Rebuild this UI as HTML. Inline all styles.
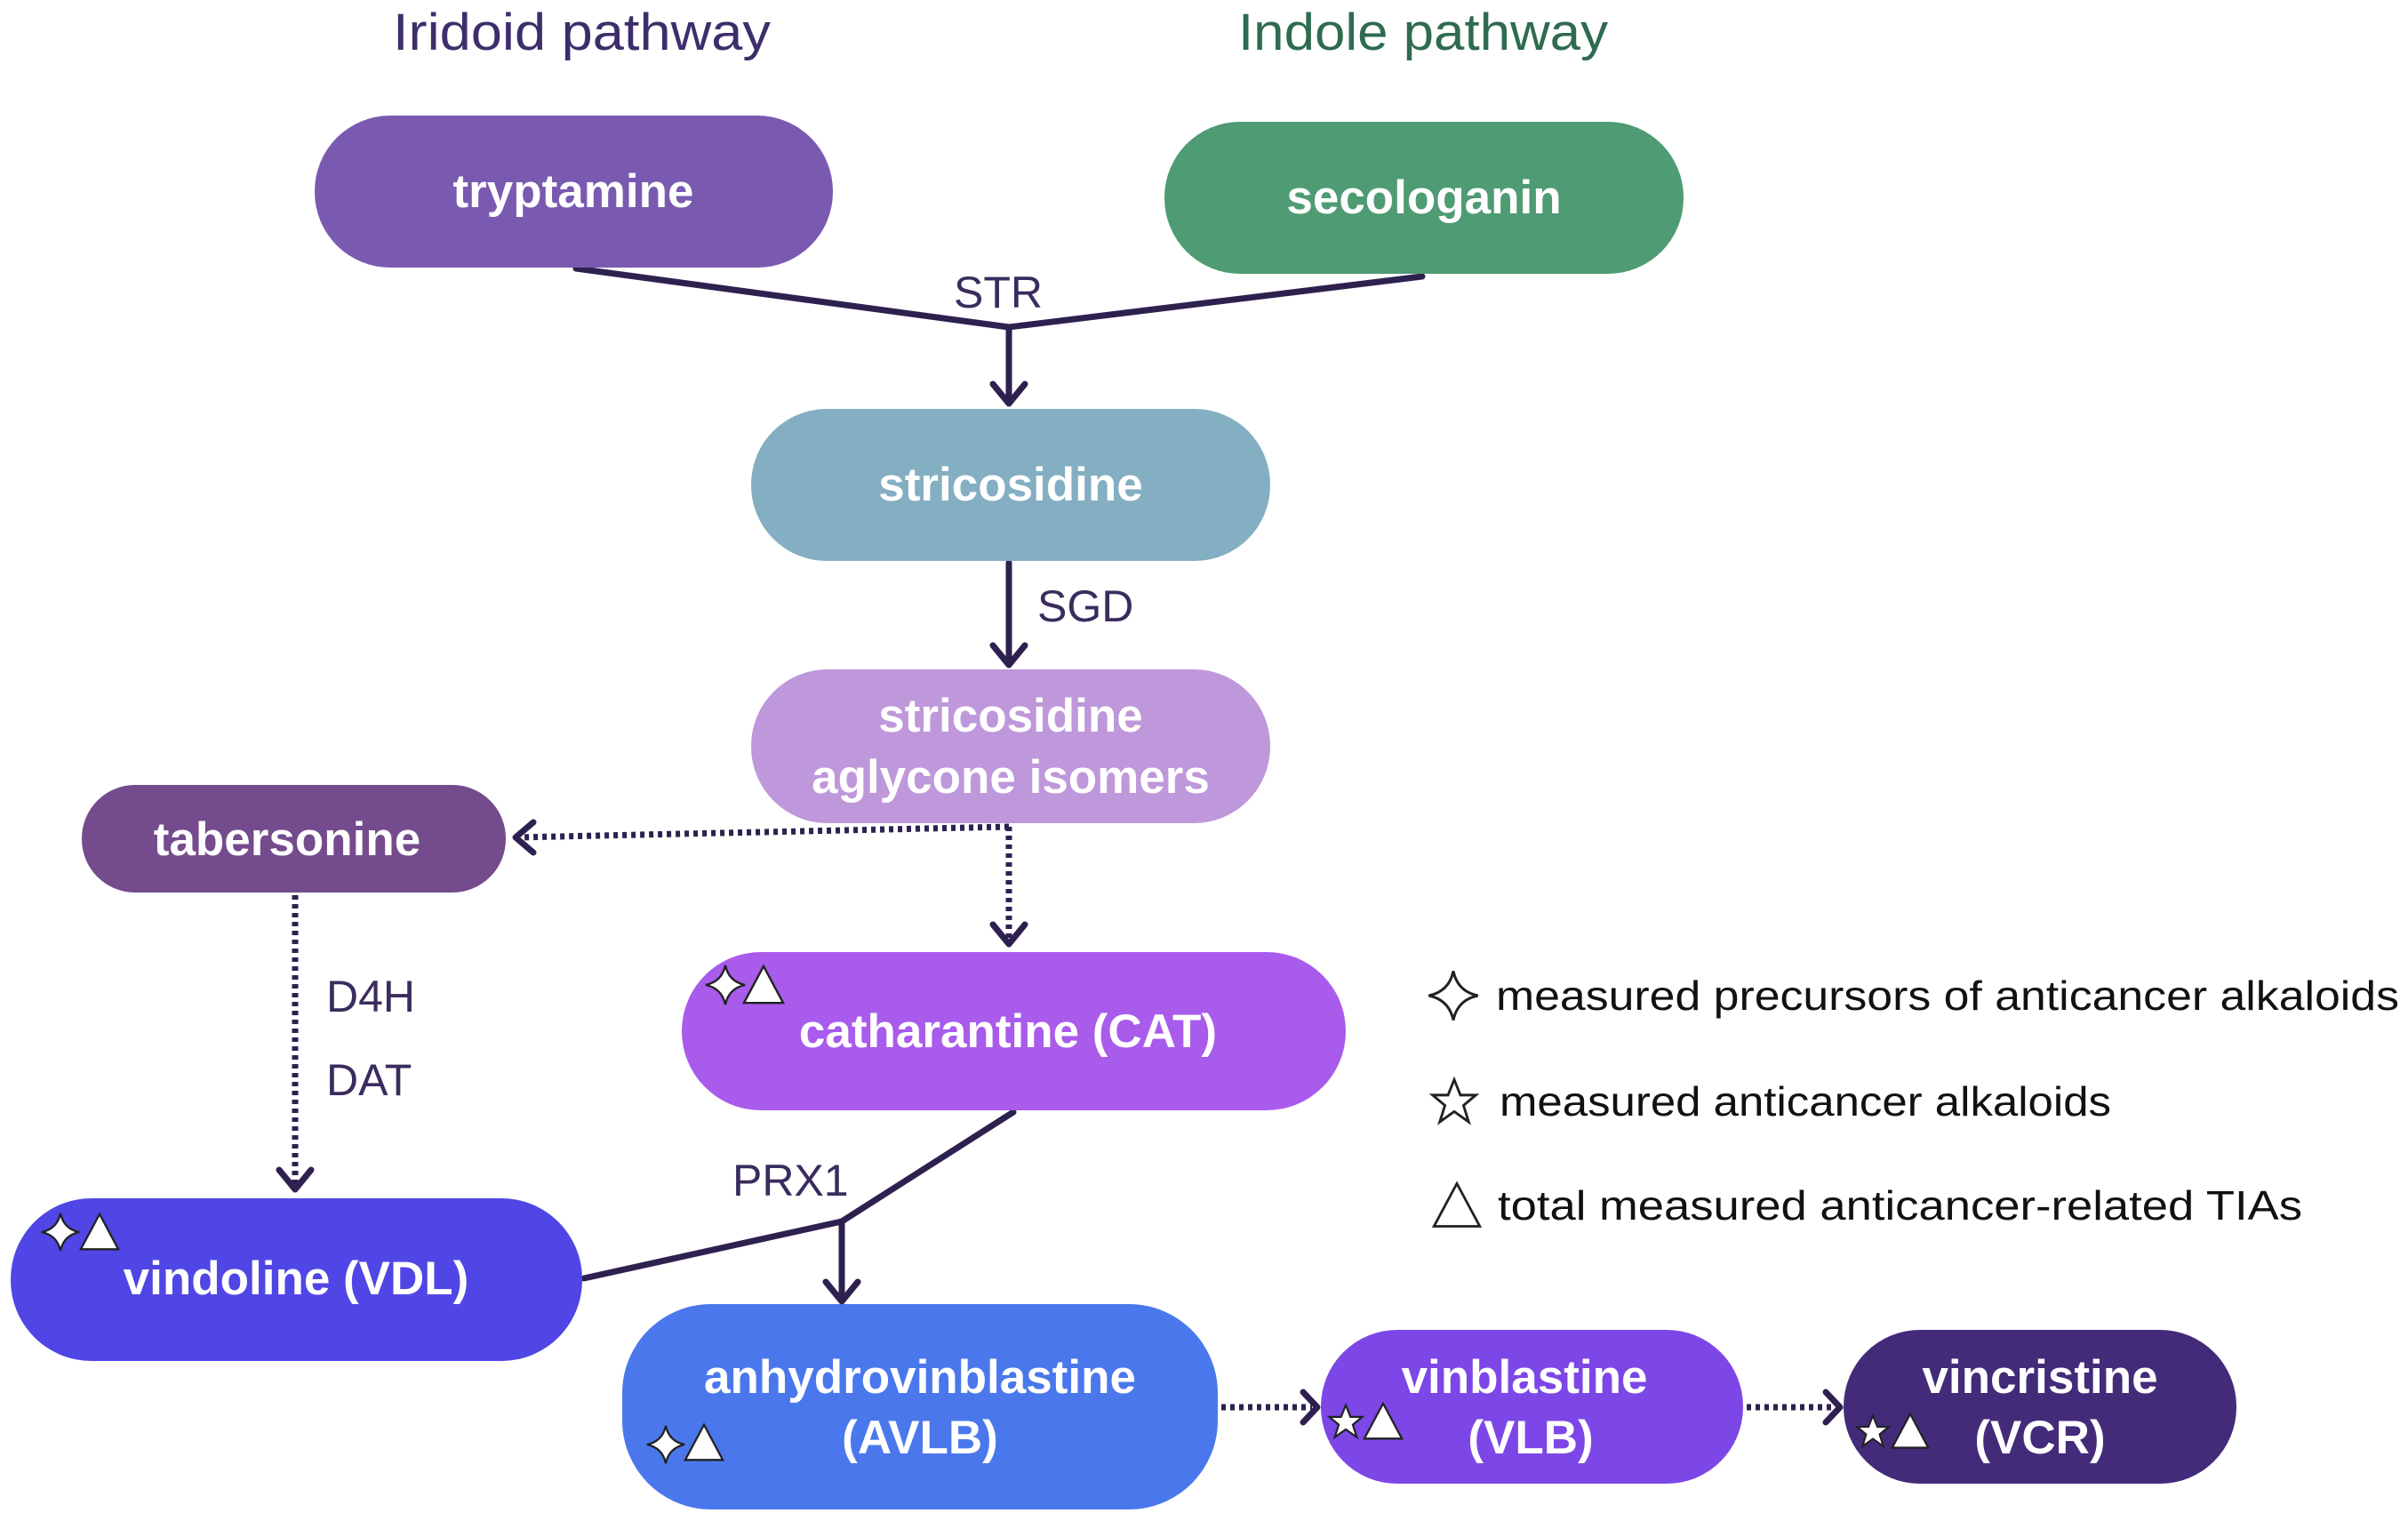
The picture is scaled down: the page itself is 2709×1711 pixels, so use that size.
<!DOCTYPE html>
<html><head><meta charset="utf-8"><style>
html,body{margin:0;padding:0;background:#fff;}
svg{display:block;}
.n{font-family:"Liberation Sans",sans-serif;font-weight:bold;fill:#fff;font-size:53px;text-anchor:middle;}
.l{font-family:"Liberation Sans",sans-serif;fill:#3a2c5e;font-size:50px;}
.g{font-family:"Liberation Sans",sans-serif;fill:#111;font-size:46px;}
</style></head><body>
<svg width="2709" height="1711" viewBox="0 0 2709 1711" xmlns="http://www.w3.org/2000/svg">
<defs>
<symbol id="sp" viewBox="-25 -25 50 50"><path d="M0,-23 Q4,-4 23,0 Q4,4 0,23 Q-4,4 -23,0 Q-4,-4 0,-23Z" fill="#fff" stroke="#222" stroke-width="2.5"/></symbol>
<symbol id="st" viewBox="-25 -25 50 50"><path d="M0,-22 L6,-7 L21,-7 L9,3 L14,19 L0,9 L-14,19 L-9,3 L-21,-7 L-6,-7Z" fill="#fff" stroke="#222" stroke-width="2.5"/></symbol>
<symbol id="tr" viewBox="-25 -25 50 50"><path d="M0,-22 L23,21 L-23,21Z" fill="#fff" stroke="#222" stroke-width="2.5"/></symbol>
</defs>
<text x="442" y="56" class="l" textLength="425" lengthAdjust="spacingAndGlyphs" style="font-size:58px;fill:#3d2e6b">Iridoid pathway</text>
<text x="1393" y="56" class="l" textLength="416" lengthAdjust="spacingAndGlyphs" style="font-size:58px;fill:#2e6b4f">Indole pathway</text>

<g stroke="#2e2150" stroke-width="7" fill="none" stroke-linecap="round" stroke-linejoin="round">
<path d="M648,302 L1135,368 L1600,311"/>
<path d="M1135,368 L1135,452"/><path d="M1117,432 L1135,454 L1153,432"/>
<path d="M1135,633 L1135,746"/><path d="M1117,726 L1135,748 L1153,726"/>
<path d="M1140,1251 L947,1374 L657,1438"/>
<path d="M947,1374 L947,1462"/><path d="M929,1442 L947,1464 L965,1442"/>
</g>
<g stroke="#2e2150" stroke-width="7" fill="none" stroke-dasharray="5 5">
<path d="M1135,930 L582,942"/>
<path d="M1135,930 L1135,1056"/>
<path d="M332,1007 L332,1332"/>
<path d="M1374,1583 L1476,1583"/>
<path d="M1965,1583 L2064,1583"/>
</g>
<g stroke="#2e2150" stroke-width="7" fill="none" stroke-linecap="round" stroke-linejoin="round">
<path d="M600,925 L580,942 L600,959"/>
<path d="M1117,1040 L1135,1062 L1153,1040"/>
<path d="M314,1316 L332,1338 L350,1316"/>
<path d="M1466,1566 L1482,1583 L1466,1600"/>
<path d="M2054,1566 L2070,1583 L2054,1600"/>
</g>
<text x="1123" y="346" class="l" text-anchor="middle">STR</text>
<text x="1167" y="699" class="l">SGD</text>
<text x="367" y="1138" class="l">D4H</text>
<text x="367" y="1232" class="l">DAT</text>
<text x="824" y="1345" class="l">PRX1</text>

<rect x="354" y="130" width="583" height="171" rx="85" fill="#7a5ab0"/>
<text x="645" y="233" class="n">tryptamine</text>
<rect x="1310" y="137" width="584" height="171" rx="85" fill="#4f9b73"/>
<text x="1602" y="240" class="n">secologanin</text>
<rect x="845" y="460" width="584" height="171" rx="85" fill="#84aec2"/>
<text x="1137" y="563" class="n">stricosidine</text>
<rect x="845" y="753" width="584" height="173" rx="86" fill="#be98da"/>
<text x="1137" y="823" class="n">stricosidine</text>
<text x="1137" y="892" class="n">aglycone isomers</text>
<rect x="92" y="883" width="477" height="121" rx="60" fill="#744b8d"/>
<text x="323" y="962" class="n">tabersonine</text>
<rect x="767" y="1071" width="747" height="178" rx="89" fill="#a95bec"/>
<text x="1134" y="1178" class="n">catharantine (CAT)</text>
<rect x="12" y="1348" width="643" height="183" rx="91" fill="#5046e5"/>
<text x="333" y="1456" class="n">vindoline (VDL)</text>
<rect x="700" y="1467" width="670" height="231" rx="100" fill="#4a78ec"/>
<text x="1035" y="1567" class="n">anhydrovinblastine</text>
<text x="1035" y="1635" class="n">(AVLB)</text>
<rect x="1486" y="1496" width="475" height="173" rx="86" fill="#7c47e6"/>
<text x="1715" y="1567" class="n">vinblastine</text>
<text x="1722" y="1635" class="n">(VLB)</text>
<rect x="2074" y="1496" width="442" height="173" rx="86" fill="#432b7a"/>
<text x="2295" y="1567" class="n">vincristine</text>
<text x="2295" y="1635" class="n">(VCR)</text>

<use href="#sp" x="792" y="1084" width="48" height="48"/>
<use href="#tr" x="834" y="1084" width="50" height="48"/>
<use href="#sp" x="45" y="1363" width="46" height="46"/>
<use href="#tr" x="88" y="1363" width="48" height="46"/>
<use href="#sp" x="726" y="1602" width="46" height="46"/>
<use href="#tr" x="768" y="1600" width="48" height="46"/>
<use href="#st" x="1492" y="1578" width="44" height="44"/>
<use href="#tr" x="1532" y="1576" width="48" height="46"/>
<use href="#st" x="2086" y="1590" width="42" height="42"/>
<use href="#tr" x="2126" y="1588" width="46" height="44"/>

<use href="#sp" x="1605" y="1090" width="60" height="60"/>
<use href="#st" x="1607" y="1211" width="58" height="58"/>
<use href="#tr" x="1610" y="1328" width="58" height="56"/>
<text x="1683" y="1136" class="g" textLength="1016" lengthAdjust="spacingAndGlyphs">measured precursors of anticancer alkaloids</text>
<text x="1687" y="1255" class="g" textLength="688" lengthAdjust="spacingAndGlyphs">measured anticancer alkaloids</text>
<text x="1685" y="1372" class="g" textLength="905" lengthAdjust="spacingAndGlyphs">total measured anticancer-related TIAs</text>
</svg>
</body></html>
